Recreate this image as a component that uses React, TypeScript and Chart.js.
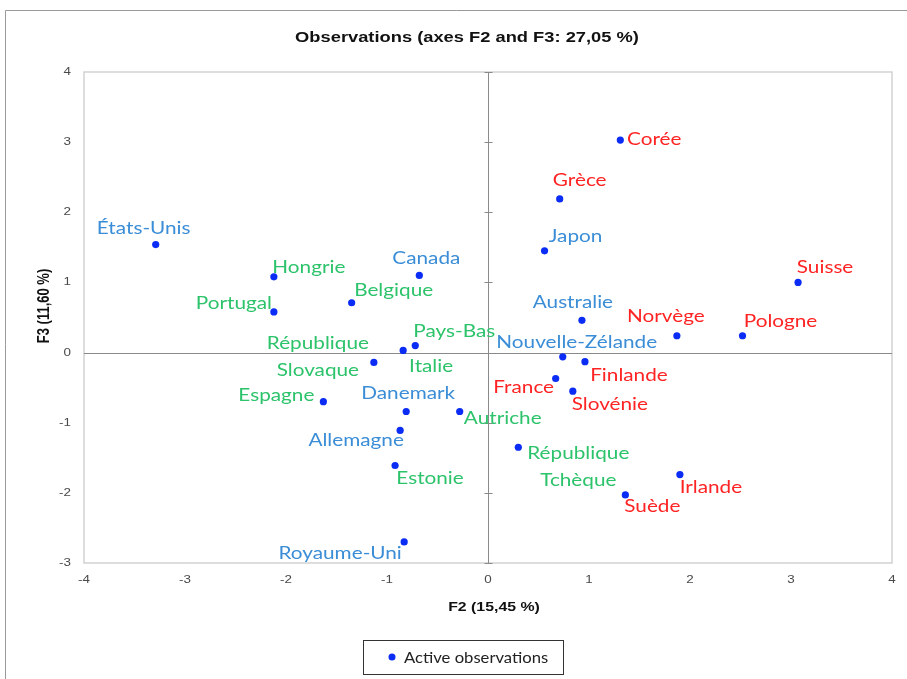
import React, { useEffect, useRef } from "react";
import { Chart, registerables } from "chart.js";

Chart.register(...registerables);

// ---- data ----
const countries = [
  "États-Unis", "Hongrie", "Portugal", "Belgique", "Canada", "Pays-Bas", "Italie",
  "République\nSlovaque", "Espagne", "Danemark", "Autriche", "Allemagne", "Estonie",
  "Royaume-Uni", "Corée", "Grèce", "Japon", "Suisse", "Australie", "Norvège", "Pologne",
  "Nouvelle-Zélande", "Finlande", "France", "Slovénie", "République\nTchèque", "Irlande", "Suède",
];
const f2 = [
  -3.29, -2.12, -2.12, -1.35, -0.68, -0.72, -0.84,
  -1.13, -1.63, -0.81, -0.28, -0.87, -0.92,
  -0.83, 1.31, 0.71, 0.56, 3.07, 0.93, 1.87, 2.52,
  0.74, 0.96, 0.67, 0.84, 0.30, 1.90, 1.36,
];
const f3 = [
  1.54, 1.08, 0.58, 0.71, 1.10, 0.10, 0.03,
  -0.14, -0.70, -0.84, -0.84, -1.11, -1.61,
  -2.70, 3.03, 2.19, 1.45, 1.00, 0.46, 0.24, 0.24,
  -0.06, -0.13, -0.37, -0.55, -1.35, -1.74, -2.03,
];
// 0 = blue, 1 = green, 2 = red
const groups = [
  0, 1, 1, 1, 0, 1, 1,
  1, 1, 0, 1, 0, 1,
  0, 2, 2, 0, 2, 0, 2, 2,
  0, 2, 2, 2, 1, 2, 2,
];
const xTicks = [-4, -3, -2, -1, 0, 1, 2, 3, 4];
const yTicks = [-3, -2, -1, 0, 1, 2, 3, 4];

const titleText = "Observations (axes F2 and F3: 27,05 %)";
const xTitle = "F2 (15,45 %)";
const yTitle = "F3 (11,60 %)";
const seriesName = "Active observations";

// ---- styles / layout ----
const GROUP_COLORS = ["#3a8dd6", "#2cc36b", "#ff2323"];
const POINT_COLOR = "#0a2cf5";
const STRETCH = 1.22; // the reference text is horizontally stretched
const LABEL_FONT = "17px Lato, 'Noto Sans', sans-serif";
const LINE_H = 27;
// label centre offsets (px) from the point, first line
const LABEL_OFFSETS: Record<string, [number, number]> = {
  "États-Unis": [-12, -16],
  "Hongrie": [35, -9],
  "Portugal": [-40, -8],
  "Belgique": [42, -12],
  "Canada": [7, -17],
  "Pays-Bas": [39, -14],
  "Italie": [28, 16],
  "République\nSlovaque": [-56, -19],
  "Espagne": [-47, -6],
  "Danemark": [2, -18],
  "Autriche": [43, 7],
  "Allemagne": [-44, 10],
  "Estonie": [35, 13],
  "Royaume-Uni": [-64, 12],
  "Corée": [34, -1],
  "Grèce": [20, -18],
  "Japon": [31, -14],
  "Suisse": [27, -15],
  "Australie": [-9, -18],
  "Norvège": [-11, -19],
  "Pologne": [38, -14],
  "Nouvelle-Zélande": [14, -14],
  "Finlande": [44, 14],
  "France": [-32, 9],
  "Slovénie": [37, 13],
  "République\nTchèque": [60, 6],
  "Irlande": [31, 13],
  "Suède": [27, 12],
};

function stretchedText(ctx: CanvasRenderingContext2D, text: string, x: number, y: number, sx: number) {
  ctx.save();
  ctx.translate(x, y);
  ctx.scale(sx, 1);
  ctx.fillText(text, 0, 0);
  ctx.restore();
}

const decor = {
  id: "decor",
  beforeDatasetsDraw(chart: any) {
    const { ctx, chartArea: a, scales } = chart;
    const x = scales.x;
    const y = scales.y;
    ctx.save();
    ctx.strokeStyle = "#d2d2d2";
    ctx.lineWidth = 1.5;
    ctx.strokeRect(a.left, a.top, a.right - a.left, a.bottom - a.top);
    const x0 = Math.round(x.getPixelForValue(0)) + 0.5;
    const y0 = Math.round(y.getPixelForValue(0)) + 0.5;
    ctx.strokeStyle = "#8a8a8a";
    ctx.lineWidth = 1;
    ctx.beginPath();
    ctx.moveTo(x0, a.top);
    ctx.lineTo(x0, a.bottom);
    ctx.moveTo(a.left, y0);
    ctx.lineTo(a.right, y0);
    for (const v of yTicks) {
      const py = Math.round(y.getPixelForValue(v)) + 0.5;
      ctx.moveTo(x0 - 4, py);
      ctx.lineTo(x0 + 4, py);
    }
    ctx.stroke();

    // tick labels
    ctx.fillStyle = "#4a4a4a";
    ctx.font = "11px 'Liberation Sans', Arial, sans-serif";
    ctx.textBaseline = "middle";
    ctx.textAlign = "center";
    for (const v of xTicks) {
      stretchedText(ctx, String(v), x.getPixelForValue(v), a.bottom + 17, STRETCH);
    }
    ctx.textAlign = "right";
    for (const v of yTicks) {
      stretchedText(ctx, String(v), a.left - 13, y.getPixelForValue(v), STRETCH);
    }
    ctx.restore();
  },
  afterDatasetsDraw(chart: any) {
    const { ctx, scales } = chart;
    const x = scales.x;
    const y = scales.y;
    ctx.save();
    ctx.font = LABEL_FONT;
    ctx.textAlign = "center";
    ctx.textBaseline = "middle";
    countries.forEach((name, i) => {
      const px = x.getPixelForValue(f2[i]);
      const py = y.getPixelForValue(f3[i]);
      const [dx, dy] = LABEL_OFFSETS[name] || [0, -14];
      ctx.fillStyle = GROUP_COLORS[groups[i]];
      name.split("\n").forEach((line, k) => {
        stretchedText(ctx, line, px + dx, py + dy + k * LINE_H, STRETCH);
      });
    });
    ctx.restore();
  },
  afterDraw(chart: any) {
    const { ctx, chartArea: a, width, height } = chart;
    ctx.save();
    // outer frame (top and left edges visible)
    ctx.strokeStyle = "#9a9a9a";
    ctx.lineWidth = 1;
    ctx.beginPath();
    ctx.moveTo(5.5, height);
    ctx.lineTo(5.5, 10.5);
    ctx.lineTo(width, 10.5);
    ctx.stroke();
    // title
    ctx.fillStyle = "#111";
    ctx.textAlign = "center";
    ctx.textBaseline = "middle";
    ctx.font = "bold 15px 'Liberation Sans', Arial, sans-serif";
    stretchedText(ctx, titleText, 467, 38, STRETCH);
    // axis titles
    ctx.font = "bold 13px 'Liberation Sans', Arial, sans-serif";
    stretchedText(ctx, xTitle, (a.left + a.right) / 2 + 6, 607, STRETCH);
    ctx.save();
    ctx.translate(45, 306);
    ctx.rotate(-Math.PI / 2);
    ctx.scale(1, STRETCH);
    ctx.fillText(yTitle, 0, 0);
    ctx.restore();
    // legend
    ctx.strokeStyle = "#333";
    ctx.lineWidth = 1;
    ctx.strokeRect(363.5, 640.5, 200, 34);
    ctx.fillStyle = POINT_COLOR;
    ctx.beginPath();
    ctx.arc(392, 657, 3.5, 0, Math.PI * 2);
    ctx.fill();
    ctx.fillStyle = "#222";
    ctx.textAlign = "left";
    ctx.font = "16px Lato, 'Noto Sans', sans-serif";
    stretchedText(ctx, seriesName, 404, 658, 1.04);
    ctx.restore();
  },
};

export default function App() {
  const canvasRef = useRef<HTMLCanvasElement | null>(null);

  useEffect(() => {
    document.body.style.margin = "0";
    const canvas = canvasRef.current;
    if (!canvas) return;
    const chart = new Chart(canvas, {
      type: "scatter",
      data: {
        datasets: [
          {
            label: seriesName,
            data: f2.map((v, i) => ({ x: v, y: f3[i] })),
            pointRadius: 3.6,
            pointBackgroundColor: POINT_COLOR,
            pointBorderWidth: 0,
            showLine: false,
          },
        ],
      },
      options: {
        animation: false,
        responsive: false,
        maintainAspectRatio: false,
        events: [],
        layout: { padding: { left: 30, right: 15, top: 72, bottom: 86 } },
        plugins: {
          legend: { display: false },
          tooltip: { enabled: false },
          title: { display: false },
        },
        scales: {
          x: {
            type: "linear",
            min: -4,
            max: 4,
            afterFit: (s: any) => {
              s.height = 30;
            },
            grid: { display: false, drawTicks: false },
            border: { display: false },
            ticks: { stepSize: 1, display: false },
          },
          y: {
            type: "linear",
            min: -3,
            max: 4,
            afterFit: (s: any) => {
              s.width = 54;
            },
            grid: { display: false, drawTicks: false },
            border: { display: false },
            ticks: { stepSize: 1, display: false },
          },
        },
      },
      plugins: [decor],
    } as any);
    return () => chart.destroy();
  }, []);

  return (
    <canvas
      ref={canvasRef}
      width={907}
      height={679}
      style={{ display: "block", width: 907, height: 679, background: "#fff" }}
    />
  );
}
